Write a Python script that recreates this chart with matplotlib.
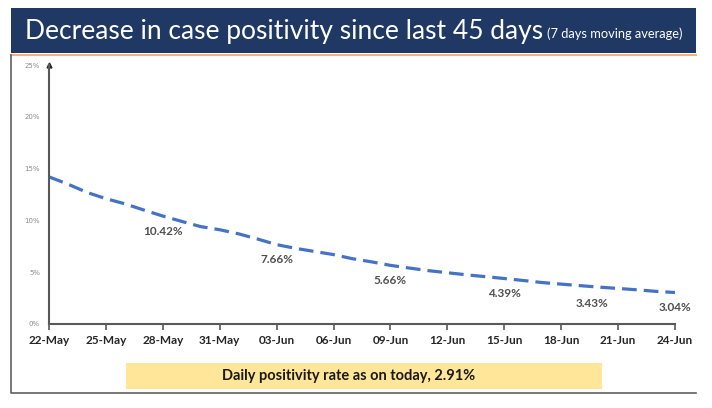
import matplotlib
matplotlib.use("Agg")
import matplotlib.pyplot as plt
import matplotlib.dates as mdates
from matplotlib.patches import Rectangle
from matplotlib.lines import Line2D
import pandas as pd

# 7 day moving average of case positivity (%), 22-May .. 24-Jun
dates = pd.date_range("2021-05-22", "2021-06-24", freq="D")
positivity = [14.2, 13.5, 12.7, 12.1, 11.6, 11.0, 10.42, 9.9, 9.4, 9.1,
              8.7, 8.2, 7.66, 7.3, 7.0, 6.7, 6.3, 6.0, 5.66, 5.4,
              5.15, 4.95, 4.75, 4.57, 4.39, 4.2, 4.0, 3.85, 3.7, 3.56,
              3.43, 3.3, 3.15, 3.04]
label_days = ["2021-05-28", "2021-06-03", "2021-06-09", "2021-06-15", "2021-06-21", "2021-06-24"]
label_text = ["10.42%", "7.66%", "5.66%", "4.39%", "3.43%", "3.04%"]
label_shift = [0, 0, 0, 0, -1.4, 0]  # days

title = "Decrease in case positivity since last 45 days"
subtitle = "(7 days moving average)"
footer = "Daily positivity rate as on today, 2.91%"

W, H = 712, 408
fig = plt.figure(figsize=(W / 100, H / 100), dpi=100)

def fx(px):
    return px / W

def fy(py):
    return 1 - py / H

# header bar
fig.patches.append(Rectangle((fx(11), fy(53)), fx(685), 45 / H, transform=fig.transFigure,
                             facecolor="#203864", edgecolor="none", zorder=0))
fig.lines.append(Line2D([fx(11), fx(696)], [fy(54.5), fy(54.5)], transform=fig.transFigure,
                        color="#F4B183", lw=1.5))
fig.text(fx(25), fy(31), title, color="white", fontsize=19, family="Lato",
         va="center", ha="left")
fig.text(fx(547), fy(34), subtitle, color="white", fontsize=9.3, family="Lato",
         va="center", ha="left")

# panel border (left and bottom)
fig.lines.append(Line2D([fx(11), fx(11), fx(696)], [fy(55), fy(393), fy(393)],
                        transform=fig.transFigure, color="#606060", lw=1.2))

# footer box
fig.patches.append(Rectangle((fx(126), fy(389)), fx(476), 26 / H, transform=fig.transFigure,
                             facecolor="#FFE699", edgecolor="none"))
fig.text(fx(349), fy(376), footer, color="#1a1a1a", fontsize=10.5, family="Lato",
         weight="bold", ha="center", va="center")

ax = fig.add_axes([fx(49), fy(324), fx(626), (324 - 65) / H])
ax.plot(dates, positivity, color="#4472C4", lw=2.3, dashes=(4.6, 2.2))
ax.set_ylim(0, 25)
ax.set_xlim(dates[0], dates[-1])

for d, t, s in zip(label_days, label_text, label_shift):
    d = pd.Timestamp(d)
    v = positivity[list(dates).index(d)]
    ax.annotate(t, (d + pd.Timedelta(days=s), v), xytext=(0, -11), textcoords="offset points",
                ha="center", va="center", fontsize=8.5, color="#505050", family="Lato",
                weight="bold")

ax.set_yticks([0, 5, 10, 15, 20, 25])
ax.set_yticklabels(["0%", "5%", "10%", "15%", "20%", "25%"])
ax.tick_params(axis="y", length=0, labelsize=5, labelcolor="#8c8c8c", pad=6.5)

ax.set_xticks(dates[::3])
ax.xaxis.set_major_formatter(mdates.DateFormatter("%d-%b"))
ax.tick_params(axis="x", length=4, width=1.2, color="#595959", labelsize=8.5,
               labelcolor="#262626", pad=4, direction="out")
for lab in ax.get_xticklabels():
    lab.set_fontweight("bold")
    lab.set_family("Lato")

for side in ["top", "right"]:
    ax.spines[side].set_visible(False)
for side in ["left", "bottom"]:
    ax.spines[side].set_color("#595959")
    ax.spines[side].set_linewidth(1.5)

# arrow head on the y axis
ax.plot([0], [1], marker="^", markersize=3.5, color="#262626",
        transform=ax.transAxes, clip_on=False)

fig.savefig("out.png", dpi=100)
